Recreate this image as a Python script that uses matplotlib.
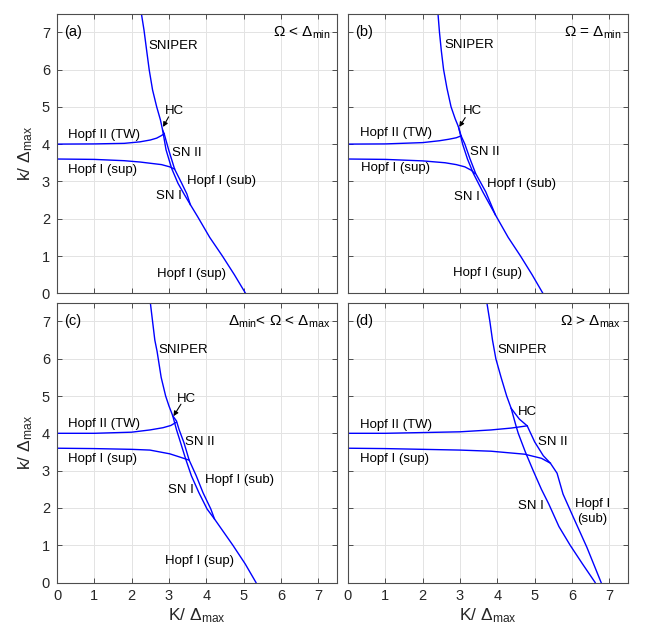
import matplotlib
matplotlib.use("Agg")
import matplotlib.pyplot as plt

plt.rcParams['font.family'] = ['Liberation Sans', 'DejaVu Sans']
plt.rcParams['mathtext.fontset'] = 'custom'
plt.rcParams['mathtext.rm'] = 'Liberation Sans'
plt.rcParams['mathtext.it'] = 'Liberation Sans:italic'
plt.rcParams['mathtext.bf'] = 'Liberation Sans:bold'

# ---------------- data (K/Δmax, k/Δmax) ----------------
# panel (a)  Ω < Δmin
A_MAIN = [(2.26, 7.5), (2.33, 7.06), (2.40, 6.52), (2.47, 5.99), (2.56, 5.45), (2.67, 5.0),
          (2.77, 4.65), (2.83, 4.37), (2.92, 3.85), (3.07, 3.35), (3.24, 2.95), (3.41, 2.65),
          (3.57, 2.38), (3.77, 2.05), (4.09, 1.5), (4.43, 1.0), (4.75, 0.5), (5.05, 0.0)]
A_RIGHT = [(2.83, 4.37), (2.87, 4.28), (2.99, 3.85), (3.15, 3.33), (3.34, 2.95),
           (3.48, 2.66), (3.57, 2.38)]
A_HOPF2 = [(0.0, 4.0), (1.0, 4.005), (1.8, 4.02), (2.22, 4.06), (2.5, 4.11), (2.67, 4.16),
           (2.8, 4.23), (2.87, 4.28)]
A_HOPF1 = [(0.0, 3.6), (1.0, 3.59), (1.8, 3.555), (2.22, 3.52), (2.55, 3.48), (2.8, 3.45),
           (3.02, 3.39), (3.15, 3.33)]

# panel (b)  Ω = Δmin
B_MAIN = [(2.41, 7.5), (2.45, 7.0), (2.50, 6.5), (2.56, 6.0), (2.65, 5.5), (2.76, 5.0),
          (2.87, 4.68), (2.96, 4.46), (3.07, 4.0), (3.2, 3.6), (3.36, 3.21), (3.61, 2.72),
          (3.95, 2.1), (4.29, 1.5), (4.62, 1.0), (4.93, 0.5), (5.22, 0.0)]
B_RIGHT = [(2.96, 4.46), (3.03, 4.22), (3.13, 4.0), (3.27, 3.6), (3.42, 3.21), (3.69, 2.72),
           (3.95, 2.1)]
B_HOPF2 = [(0.0, 4.0), (1.0, 4.005), (2.0, 4.04), (2.45, 4.09), (2.7, 4.13), (2.9, 4.17),
           (3.03, 4.22)]
B_HOPF1 = [(0.0, 3.6), (1.0, 3.59), (2.0, 3.55), (2.6, 3.5), (2.9, 3.45), (3.13, 3.39),
           (3.3, 3.3), (3.4, 3.21)]

# panel (c)  Δmin < Ω < Δmax
C_MAIN = [(2.5, 7.5), (2.56, 7.0), (2.62, 6.5), (2.68, 6.2), (2.79, 5.5), (2.91, 5.0),
          (3.0, 4.73), (3.1, 4.47), (3.2, 4.1), (3.31, 3.75), (3.45, 3.3), (3.6, 2.86),
          (3.8, 2.41), (4.02, 1.97), (4.22, 1.7), (4.71, 1.0), (5.04, 0.5), (5.33, 0.0)]
C_RIGHT = [(3.1, 4.47), (3.2, 4.33), (3.27, 4.1), (3.4, 3.75), (3.54, 3.28), (3.73, 2.86),
           (3.91, 2.41), (4.12, 1.97), (4.22, 1.7)]
C_HOPF2 = [(0.0, 4.0), (1.0, 4.0), (2.0, 4.03), (2.49, 4.09), (2.84, 4.15), (3.05, 4.21),
           (3.2, 4.3)]
C_HOPF1 = [(0.0, 3.6), (1.0, 3.59), (2.0, 3.57), (2.49, 3.55), (3.02, 3.45), (3.3, 3.36),
           (3.54, 3.28)]

# panel (d)  Ω > Δmax
D_MAIN = [(3.72, 7.5), (3.80, 7.0), (3.87, 6.5), (3.96, 6.0), (4.1, 5.5), (4.25, 5.0),
          (4.37, 4.67), (4.5, 4.2), (4.56, 4.0), (4.75, 3.5), (4.96, 3.0), (5.18, 2.5),
          (5.38, 2.1), (5.65, 1.5), (5.95, 1.0), (6.28, 0.5), (6.62, 0.0)]
D_RIGHT = [(4.37, 4.67), (4.59, 4.38), (4.8, 4.2), (5.0, 3.77), (5.23, 3.4), (5.42, 3.2),
           (5.6, 2.93), (5.76, 2.37), (6.04, 1.74), (6.4, 0.94), (6.78, 0.0)]
D_HOPF2 = [(0.0, 4.0), (1.0, 4.0), (2.0, 4.02), (3.0, 4.04), (3.83, 4.09), (4.37, 4.14),
           (4.8, 4.2)]
D_HOPF1 = [(0.0, 3.6), (1.0, 3.59), (2.0, 3.57), (3.0, 3.55), (3.83, 3.52), (4.73, 3.44),
           (5.18, 3.33), (5.42, 3.2)]

PANEL_TAGS = ['(a)', '(b)', '(c)', '(d)']
PANEL_TITLES = [r'$\Omega$ < $\Delta_{\mathrm{min}}$', r'$\Omega$ = $\Delta_{\mathrm{min}}$',
                r'$\Delta_{\mathrm{min}}$< $\Omega$ < $\Delta_{\mathrm{max}}$',
                r'$\Omega$ > $\Delta_{\mathrm{max}}$']
TICKS = [0, 1, 2, 3, 4, 5, 6, 7]

# labels: (text, x, y)
A_LABELS = [('SNIPER', 2.44, 6.62), ('Hopf II (TW)', 0.29, 4.25), ('SN II', 3.09, 3.76),
            ('Hopf I (sup)', 0.3, 3.3), ('Hopf I (sub)', 3.48, 3.0), ('SN I', 2.65, 2.6),
            ('Hopf I (sup)', 2.68, 0.53), ('HC', 2.9, 4.9)]
B_LABELS = [('SNIPER', 2.59, 6.65), ('Hopf II (TW)', 0.33, 4.29), ('SN II', 3.28, 3.79),
            ('Hopf I (sup)', 0.36, 3.35), ('Hopf I (sub)', 3.72, 2.92), ('SN I', 2.83, 2.57),
            ('Hopf I (sup)', 2.8, 0.54), ('HC', 3.07, 4.89)]
C_LABELS = [('SNIPER', 2.73, 6.22), ('Hopf II (TW)', 0.29, 4.24), ('SN II', 3.43, 3.77),
            ('Hopf I (sup)', 0.29, 3.3), ('Hopf I (sub)', 3.97, 2.74), ('SN I', 2.97, 2.48),
            ('Hopf I (sup)', 2.88, 0.58), ('HC', 3.21, 4.91)]
D_LABELS = [('SNIPER', 3.99, 6.23), ('Hopf II (TW)', 0.33, 4.23), ('SN II', 5.08, 3.77),
            ('Hopf I (sup)', 0.33, 3.31), ('SN I', 4.56, 2.06), ('HC', 4.54, 4.58)]
D_EXTRA_LABEL = ('Hopf I\n(sub)', 6.54, 1.91)

# HC arrows: (tail, head)
ARROWS = [((2.99, 4.73), (2.84, 4.46)), ((3.14, 4.71), (2.98, 4.46)),
          ((3.32, 4.78), (3.12, 4.46)), None]

CURVES = [(A_MAIN, A_RIGHT, A_HOPF2, A_HOPF1), (B_MAIN, B_RIGHT, B_HOPF2, B_HOPF1),
          (C_MAIN, C_RIGHT, C_HOPF2, C_HOPF1), (D_MAIN, D_RIGHT, D_HOPF2, D_HOPF1)]
LABELS = [A_LABELS, B_LABELS, C_LABELS, D_LABELS]

# ---------------- figure ----------------
W, H = 664, 635
fig = plt.figure(figsize=(W / 100, H / 100), dpi=100)
ax_w = 280 / W
ax_h = 279.75 / H
lefts = [57 / W, 348 / W, 57 / W, 348 / W]
bottoms = [1 - 293.3 / H, 1 - 293.3 / H, 1 - 582.5 / H, 1 - 582.5 / H]

blue = '#0000ff'
for i in range(4):
    ax = fig.add_axes([lefts[i], bottoms[i], ax_w, ax_h])
    ax.set_xlim(0, 7.5)
    ax.set_ylim(0, 7.5)
    ax.set_xticks(TICKS)
    ax.set_yticks(TICKS)
    ax.grid(True, color='#e3e3e3', lw=0.7)
    ax.set_axisbelow(True)
    for s in ax.spines.values():
        s.set_color('#4d4d4d')
        s.set_linewidth(0.8)
    ax.tick_params(direction='in', length=3.5, width=0.7, color='#4d4d4d',
                   top=True, right=True, labelsize=10.5, labelcolor='#262626', pad=5)
    if i in (0, 1):
        ax.tick_params(labelbottom=False)
    else:
        ax.set_xlabel(r'K/ $\Delta_{\mathrm{max}}$', fontsize=12.5, color='#262626', labelpad=2)
    if i in (1, 3):
        ax.tick_params(labelleft=False)
    else:
        ax.set_ylabel(r'k/ $\Delta_{\mathrm{max}}$', fontsize=12.5, color='#262626', labelpad=5)

    for curve in CURVES[i]:
        xs = [p[0] for p in curve]
        ys = [p[1] for p in curve]
        ax.plot(xs, ys, color=blue, lw=1.0, solid_joinstyle='round')

    for txt, x, y in LABELS[i]:
        ax.text(x, y, txt, fontsize=9.5, ha='left', va='center')
    if i == 3:
        t, x, y = D_EXTRA_LABEL
        ax.text(x, y, t, fontsize=9.5, ha='center', va='center', linespacing=1.3)

    if ARROWS[i] is not None:
        tail, head = ARROWS[i]
        ax.annotate('', xy=head, xytext=tail,
                    arrowprops=dict(arrowstyle='-|>', color='k', lw=0.8,
                                    mutation_scale=7, shrinkA=0, shrinkB=0))

    ax.text(0.2, 7.0, PANEL_TAGS[i], fontsize=10.5, ha='left', va='center')
    ax.text(7.32, 6.88, PANEL_TITLES[i], fontsize=11, ha='right', va='baseline')

fig.savefig('out.png', dpi=100)
